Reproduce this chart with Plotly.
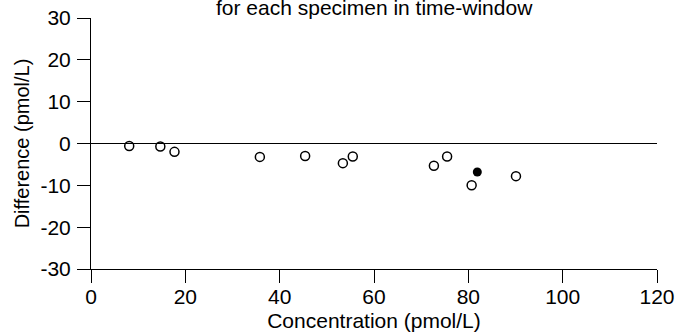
import plotly.graph_objects as go

# open circles: specimens in time-window
conc_open = [8.1, 14.7, 17.7, 35.8, 45.4, 53.4, 55.5, 72.7, 75.5, 80.7, 90.1]
diff_open = [-0.6, -0.7, -2.0, -3.2, -3.0, -4.7, -3.1, -5.3, -3.1, -10.0, -7.8]

# filled circle
conc_filled = [81.9]
diff_filled = [-6.8]

x_ticks = [0, 20, 40, 60, 80, 100, 120]
y_ticks = [-30, -20, -10, 0, 10, 20, 30]
y_tick_labels = ["-30", "-20", "-10", "0", "10", "20", "30"]

FONT = "Liberation Sans, Arial, Helvetica, sans-serif"
FS = 21


def main() -> None:
    fig = go.Figure()

    fig.add_trace(
        go.Scatter(
            x=conc_open,
            y=diff_open,
            mode="markers",
            marker=dict(
                symbol="circle-open", size=9, color="black", line=dict(width=1.5)
            ),
            showlegend=False,
        )
    )
    fig.add_trace(
        go.Scatter(
            x=conc_filled,
            y=diff_filled,
            mode="markers",
            marker=dict(symbol="circle", size=9, color="black"),
            showlegend=False,
        )
    )

    axis_common = dict(
        showgrid=False,
        showline=True,
        linecolor="black",
        linewidth=1,
        ticks="outside",
        ticklen=13,
        tickwidth=1,
        tickcolor="black",
        tickfont=dict(size=FS, color="black", family=FONT),
        mirror=False,
        automargin=False,
    )

    fig.update_xaxes(
        range=[0, 120],
        tickvals=x_ticks,
        zeroline=False,
        ticklabelstandoff=-4,
        title=dict(text="Concentration (pmol/L)", font=dict(size=FS, color="black", family=FONT), standoff=7),
        **axis_common,
    )
    fig.update_yaxes(
        range=[-30, 30],
        tickvals=y_ticks,
        ticktext=y_tick_labels,
        zeroline=True,
        zerolinecolor="black",
        zerolinewidth=1,
        ticklabelstandoff=2,
        title=dict(text="Difference (pmol/L)", font=dict(size=20, color="black", family=FONT), standoff=5),
        **axis_common,
    )

    fig.add_annotation(
        text="for each specimen in time-window",
        xref="paper",
        yref="paper",
        x=0.5,
        y=1.0,
        yshift=11,
        xanchor="center",
        yanchor="middle",
        showarrow=False,
        font=dict(size=FS, color="black", family=FONT),
    )

    fig.update_layout(
        width=680,
        height=332,
        margin=dict(l=91, r=23, t=18, b=63),
        plot_bgcolor="white",
        paper_bgcolor="white",
        font=dict(family=FONT, color="black"),
    )

    # drop the default page margin so the figure sits at the window corner
    fig.write_html(
        "out.html",
        config={"displayModeBar": False},
        post_script="document.body.style.margin='0';",
    )


if __name__ == "__main__":
    main()
